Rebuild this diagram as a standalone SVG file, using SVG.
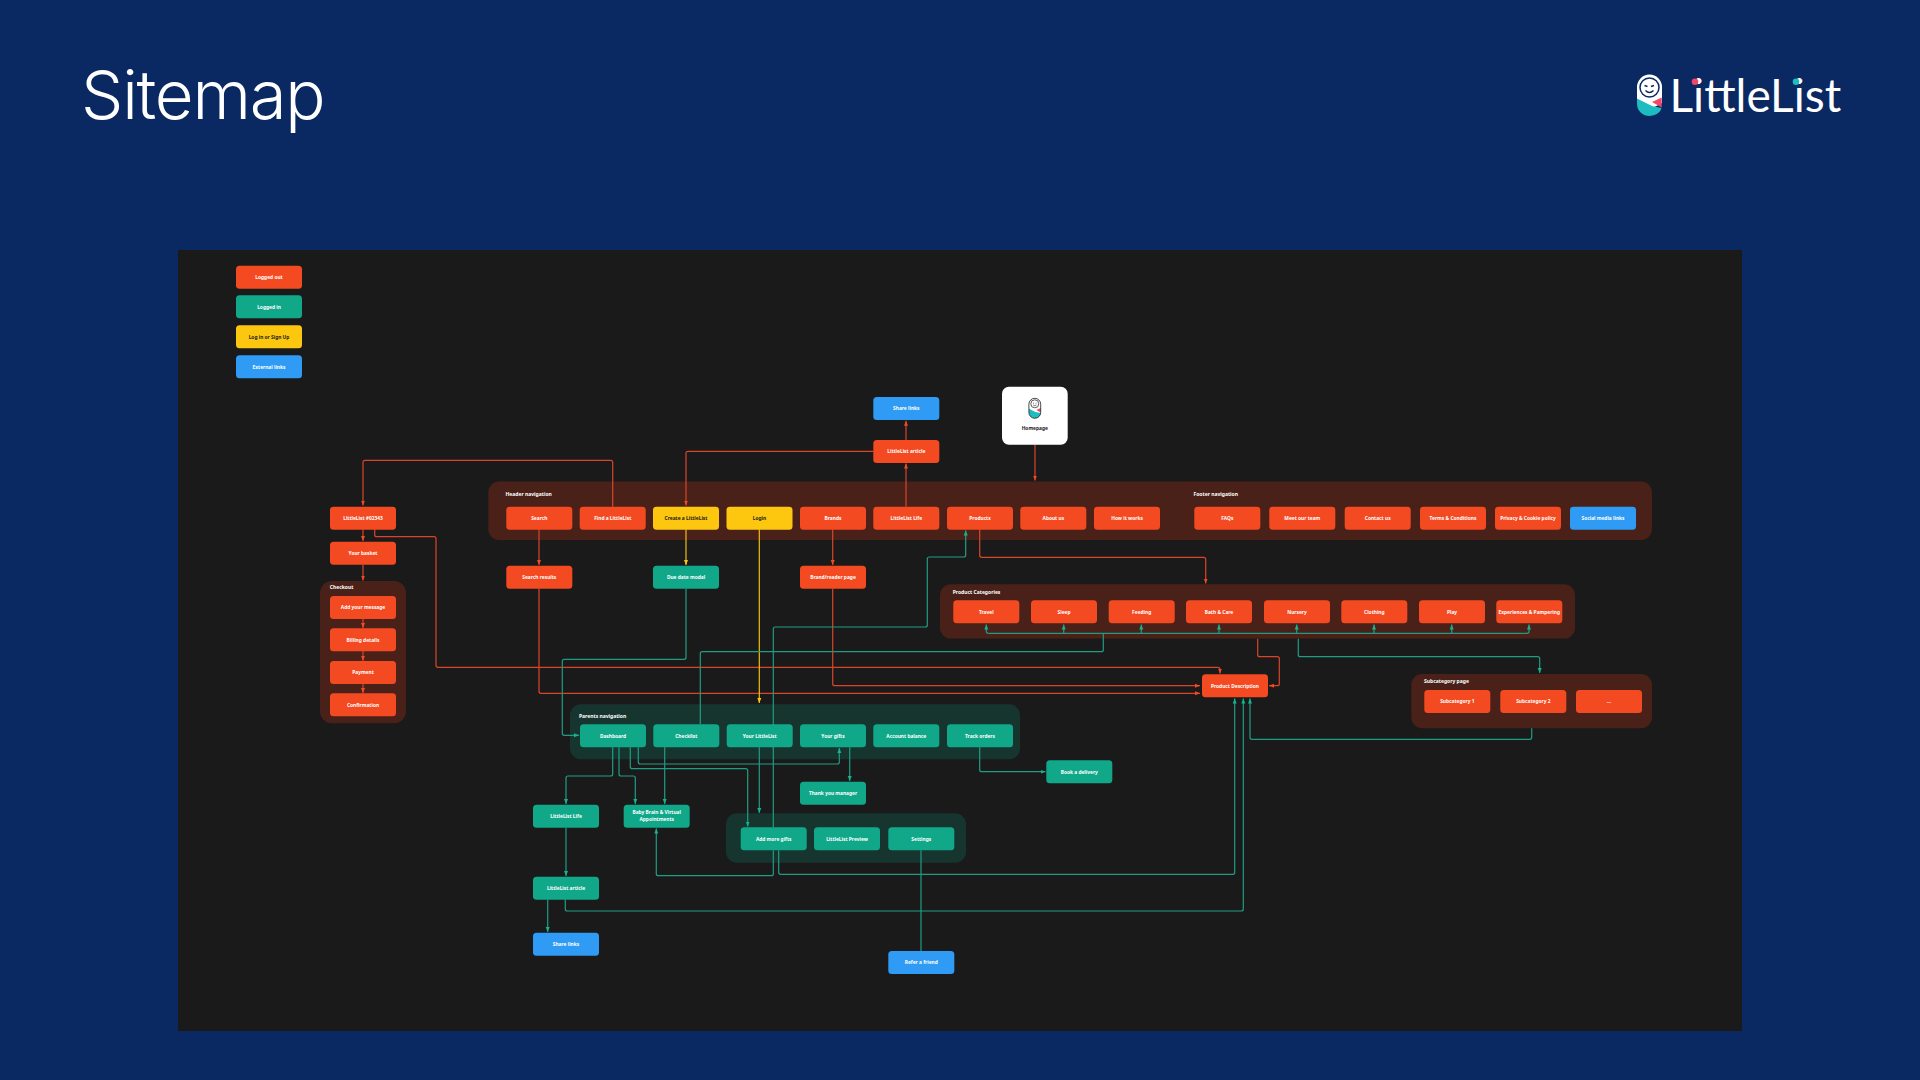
<svg xmlns="http://www.w3.org/2000/svg" width="1920" height="1080" viewBox="0 0 1920 1080">
<defs>
<style>
.r{fill:#f44a22}.t{fill:#11a88a}.y{fill:#fdc70f}.b{fill:#2f9bf4}
.gr{fill:#4a2119}.gt{fill:#17352f}
rect.r,rect.t,rect.y,rect.b{rx:3.5px;ry:3.5px;width:66px;height:23px}
text{font-family:"Noto Sans","Open Sans",sans-serif}
.l{font-size:4.85px;font-weight:700;fill:#fff;text-anchor:middle}
.d{fill:#1a1a1a}
.h{font-size:5px;font-weight:700;fill:#fff}
.cr,.ct,.cy{fill:none;stroke-width:1.2}
.cr{stroke:#d9452a}.ct{stroke:#1f9d84}.cy{stroke:#f2bd12}
.ma{marker-end:url(#ar)}.mt{marker-end:url(#at)}.my{marker-end:url(#ay)}
</style>
<marker id="ar" markerUnits="userSpaceOnUse" markerWidth="6" markerHeight="6" refX="5" refY="3" orient="auto"><path d="M0 1L5 3L0 5z" fill="#f44a22"/></marker>
<marker id="at" markerUnits="userSpaceOnUse" markerWidth="6" markerHeight="6" refX="5" refY="3" orient="auto"><path d="M0 1L5 3L0 5z" fill="#14b392"/></marker>
<marker id="ay" markerUnits="userSpaceOnUse" markerWidth="6" markerHeight="6" refX="5" refY="3" orient="auto"><path d="M0 1L5 3L0 5z" fill="#fdc70f"/></marker>
</defs>
<rect width="1920" height="1080" fill="#0a2862"/>
<text x="81" y="119" font-weight="300" font-size="67" letter-spacing="-1.200" fill="#fff" style="font-family:Inter,sans-serif">Sitemap</text>
<g id="logo">
<path d="M1637 103V87a12.500 12.500 0 0 1 25 0V103L1649 110z" fill="#fff"/>
<circle cx="1649.500" cy="87.500" r="9.500" fill="none" stroke="#0a2862" stroke-width="1.500"/>
<path d="M1644.500 85.500l3 1M1654 85.500l-3 1M1645.500 90.500q4 4 8 0" fill="none" stroke="#0a2862" stroke-width="1.400"/>
<path d="M1637 98.500L1652 106L1661.500 108A12.500 9 0 0 1 1649.500 116A12.500 12 0 0 1 1637 104z" fill="#1cbcc0"/>
<path d="M1661.700 97.500V107.500L1652 102z" fill="#f2476a"/>
<text x="1669.500" y="112" font-size="46" font-weight="400" fill="#fff" style="font-family:Lato,sans-serif">LittleList</text>
<circle cx="1695" cy="81.700" r="3.300" fill="#f2476a"/>
<circle cx="1796" cy="81.700" r="3.300" fill="#1cbcc0"/>
</g>
<rect id="panel" x="178" y="250" width="1564" height="781" fill="#1a1a1a"/>

<g id="groups">
<rect id="group-nav" class="gr" x="488.300" y="481.500" width="1163.700" height="58.500" rx="11"/>
<rect id="group-checkout" class="gr" x="320" y="581" width="86" height="142.300" rx="12"/>
<rect id="group-categories" class="gr" x="940" y="584.300" width="635" height="54.300" rx="11"/>
<rect id="group-subcategory" class="gr" x="1411.300" y="674" width="240.700" height="54.300" rx="11"/>
<rect id="group-parents" class="gt" x="570" y="704.300" width="450" height="55" rx="11"/>
<rect id="group-settings" class="gt" x="726" y="813.300" width="240" height="49.400" rx="11"/>
<text class="h" x="505.500" y="496">Header navigation</text>
<text class="h" x="1193.500" y="496">Footer navigation</text>
<text class="h" x="329.700" y="589">Checkout</text>
<text class="h" x="952.700" y="593.500">Product Categories</text>
<text class="h" x="1424" y="683">Subcategory page</text>
<text class="h" x="579" y="717.700">Parents navigation</text>
</g>

<g id="connectors">
<path class="cr ma" d="M612.700 506.700V462.300Q612.700 460.300 610.700 460.300H365Q363 460.300 363 462.300V505.500"/>
<path class="cr ma" d="M363 529.300V541"/>
<path class="cr ma" d="M374.700 529.300V534.700Q374.700 536.700 376.700 536.700H434Q436 536.700 436 538.700V665.300Q436 667.300 438 667.300H1218Q1220 667.300 1220 669.300V673.500"/>
<path class="cr ma" d="M363 564.700V580.500"/>
<path class="cr ma" d="M363 618.700V628"/>
<path class="cr ma" d="M363 651V660.700"/>
<path class="cr ma" d="M363 683.300V693"/>
<path class="cr ma" d="M539 529.300V565"/>
<path class="cr ma" d="M539 588.700V691.300Q539 693.300 541 693.300H1200"/>
<path class="cr ma" d="M832.700 529.300V565"/>
<path class="cr ma" d="M832.700 588.700V683.700Q832.700 685.700 834.700 685.700H1200"/>
<path class="cr ma" d="M906 506.700V463.500"/>
<path class="cr ma" d="M906 440V420.800"/>
<path class="cr ma" d="M873.300 451.300H688Q686 451.300 686 453.300V505.500"/>
<path class="cr ma" d="M1035 444.700V480.500"/>
<path class="cr ma" d="M979.700 529.300V555.300Q979.700 557.300 981.700 557.300H1203.700Q1205.700 557.300 1205.700 559.300V583.500"/>
<path class="cr ma" d="M1257.700 638.700V654.700Q1257.700 656.700 1259.700 656.700H1277.300Q1279.300 656.700 1279.300 658.700V683.700Q1279.300 685.700 1277.300 685.700H1269"/>
<path class="cy my" d="M686 529.300V565"/>
<path class="cy my" d="M759.300 529.300V703"/>
<path class="ct mt" d="M686 588.700V657.300Q686 659.300 684 659.300H564.300Q562.300 659.300 562.300 661.300V733.300Q562.300 735.300 564.300 735.300H579"/>
<path class="ct" d="M700.300 724.300V653.700Q700.300 651.700 702.300 651.700H1101.300Q1103.300 651.700 1103.300 649.700V633.300"/>
<path class="ct mt" d="M988.300 633.300H1527Q1529 633.300 1529 631.300V624.500"/>
<path class="ct mt" d="M988.300 633.300Q986.300 633.300 986.300 631.300V624.500"/>
<path class="ct mt" d="M1063.700 633.300V624.500"/>
<path class="ct mt" d="M1141.300 633.300V624.500"/>
<path class="ct mt" d="M1219 633.300V624.500"/>
<path class="ct mt" d="M1296.700 633.300V624.500"/>
<path class="ct mt" d="M1374 633.300V624.500"/>
<path class="ct mt" d="M1451.700 633.300V624.500"/>
<path class="ct mt" d="M1298.300 638.700V654.700Q1298.300 656.700 1300.300 656.700H1537.700Q1539.700 656.700 1539.700 658.700V673"/>
<path class="ct mt" d="M1531.700 728.300V737.300Q1531.700 739.300 1529.700 739.300H1252Q1250 739.300 1250 737.300V698.500"/>
<path class="ct mt" d="M778.700 850.300V872.300Q778.700 874.300 780.700 874.300H1232.700Q1234.700 874.300 1234.700 872.300V698.500"/>
<path class="ct mt" d="M565.300 899.300V909Q565.300 911 567.300 911H1241.300Q1243.300 911 1243.300 909V698.500"/>
<path class="ct mt" d="M773.300 827.300V629Q773.300 627 775.300 627H925.300Q927.300 627 927.300 625V559Q927.300 557 929.300 557H963.700Q965.700 557 965.700 555V530.500"/>
<path class="ct mt" d="M612.700 747.300V774Q612.700 776 610.700 776H568Q566 776 566 778V804"/>
<path class="ct mt" d="M619 747.300V774Q619 776 621 776H633.300Q635.300 776 635.300 778V804"/>
<path class="ct mt" d="M630.300 747.300V766.700Q630.300 768.700 632.300 768.700H745.700Q747.700 768.700 747.700 770.700V826.500"/>
<path class="ct mt" d="M638.300 747.300V762Q638.300 764 640.300 764H837.300Q839.300 764 839.300 762V748"/>
<path class="ct mt" d="M664.700 747.300V804"/>
<path class="ct mt" d="M759.300 747.300V813"/>
<path class="ct mt" d="M849.700 747.300V781"/>
<path class="ct mt" d="M979.700 747.300V769.700Q979.700 771.700 981.700 771.700H1045.500"/>
<path class="ct mt" d="M773.300 850.300V873.700Q773.300 875.700 771.300 875.700H658.300Q656.300 875.700 656.300 873.700V828.500"/>
<path class="ct mt" d="M566 827.700V876"/>
<path class="ct mt" d="M547.700 899.300V932"/>
<path class="ct" d="M921 850.300V951"/>
</g>

<g id="legend-out"><rect class="r" x="236" y="265.700"/><text class="l" x="269" y="278.900">Logged out</text></g>
<g id="legend-in"><rect class="t" x="236" y="295.300"/><text class="l" x="269" y="308.500">Logged in</text></g>
<g id="legend-sign"><rect class="y" x="236" y="325.300"/><text class="l d" x="269" y="338.500">Log in or Sign Up</text></g>
<g id="legend-ext"><rect class="b" x="236" y="355.300"/><text class="l" x="269" y="368.500">External links</text></g>

<g id="homepage"><rect x="1002" y="386.700" width="65.700" height="58" rx="7" fill="#fff"/>
<path d="M1029 408.800L1035.500 412L1040.600 413A6 5 0 0 1 1034.800 418.200A6 6 0 0 1 1029 412.500z" fill="#1cbcc0"/>
<path d="M1040.600 408V412.500L1036.300 410z" fill="#f2476a"/>
<rect x="1028.900" y="398.300" width="11.800" height="20" rx="5.900" fill="none" stroke="#1a1a1a" stroke-width=".8"/>
<circle cx="1034.800" cy="403.800" r="4" fill="none" stroke="#1a1a1a" stroke-width=".7"/>
<path d="M1033 403l1 .4M1036.600 403l-1 .4M1033.200 405q1.600 1.500 3.200 0" fill="none" stroke="#1a1a1a" stroke-width=".6"/>
<text class="l d" x="1034.800" y="430">Homepage</text></g>

<g id="n-littlelist-id"><rect class="r" x="330" y="506.700"/><text class="l" x="363" y="519.900">LittleList #02343</text></g>
<g id="n-basket"><rect class="r" x="330" y="541.700"/><text class="l" x="363" y="554.900">Your basket</text></g>
<g id="n-message"><rect class="r" x="330" y="596"/><text class="l" x="363" y="609.200">Add your message</text></g>
<g id="n-billing"><rect class="r" x="330" y="628.300"/><text class="l" x="363" y="641.500">Billing details</text></g>
<g id="n-payment"><rect class="r" x="330" y="661"/><text class="l" x="363" y="674.200">Payment</text></g>
<g id="n-confirmation"><rect class="r" x="330" y="693.300"/><text class="l" x="363" y="706.500">Confirmation</text></g>

<g id="n-search"><rect class="r" x="506.300" y="506.700"/><text class="l" x="539.300" y="519.900">Search</text></g>
<g id="n-find"><rect class="r" x="579.700" y="506.700"/><text class="l" x="612.700" y="519.900">Find a LittleList</text></g>
<g id="n-create"><rect class="y" x="653" y="506.700"/><text class="l d" x="686" y="519.900">Create a LittleList</text></g>
<g id="n-login"><rect class="y" x="726.500" y="506.700"/><text class="l d" x="759.500" y="519.900">Login</text></g>
<g id="n-brands"><rect class="r" x="800" y="506.700"/><text class="l" x="833" y="519.900">Brands</text></g>
<g id="n-life"><rect class="r" x="873.300" y="506.700"/><text class="l" x="906.300" y="519.900">LittleList Life</text></g>
<g id="n-products"><rect class="r" x="947" y="506.700"/><text class="l" x="980" y="519.900">Products</text></g>
<g id="n-about"><rect class="r" x="1020.300" y="506.700"/><text class="l" x="1053.300" y="519.900">About us</text></g>
<g id="n-how"><rect class="r" x="1094" y="506.700"/><text class="l" x="1127" y="519.900">How it works</text></g>
<g id="n-faqs"><rect class="r" x="1194.300" y="506.700"/><text class="l" x="1227.300" y="519.900">FAQs</text></g>
<g id="n-team"><rect class="r" x="1269.300" y="506.700"/><text class="l" x="1302.300" y="519.900">Meet our team</text></g>
<g id="n-contact"><rect class="r" x="1344.700" y="506.700"/><text class="l" x="1377.700" y="519.900">Contact us</text></g>
<g id="n-terms"><rect class="r" x="1420" y="506.700"/><text class="l" x="1453" y="519.900">Terms &amp; Conditions</text></g>
<g id="n-privacy"><rect class="r" x="1495" y="506.700"/><text class="l" x="1528" y="519.900">Privacy &amp; Cookie policy</text></g>
<g id="n-social"><rect class="b" x="1570" y="506.700"/><text class="l" x="1603" y="519.900">Social media links</text></g>

<g id="n-share-top"><rect class="b" x="873.300" y="397"/><text class="l" x="906.300" y="410.200">Share links</text></g>
<g id="n-article-top"><rect class="r" x="873.300" y="440"/><text class="l" x="906.300" y="453.200">LittleList article</text></g>
<g id="n-search-results"><rect class="r" x="506.300" y="565.700"/><text class="l" x="539.300" y="578.900">Search results</text></g>
<g id="n-due"><rect class="t" x="653" y="565.700"/><text class="l" x="686" y="578.900">Due date modal</text></g>
<g id="n-brand-page"><rect class="r" x="800" y="565.700"/><text class="l" x="833" y="578.900">Brand/reader page</text></g>

<g id="n-travel"><rect class="r" x="953.300" y="600.300"/><text class="l" x="986.300" y="613.500">Travel</text></g>
<g id="n-sleep"><rect class="r" x="1031" y="600.300"/><text class="l" x="1064" y="613.500">Sleep</text></g>
<g id="n-feeding"><rect class="r" x="1108.700" y="600.300"/><text class="l" x="1141.700" y="613.500">Feeding</text></g>
<g id="n-bath"><rect class="r" x="1186" y="600.300"/><text class="l" x="1219" y="613.500">Bath &amp; Care</text></g>
<g id="n-nursery"><rect class="r" x="1264" y="600.300"/><text class="l" x="1297" y="613.500">Nursery</text></g>
<g id="n-clothing"><rect class="r" x="1341.300" y="600.300"/><text class="l" x="1374.300" y="613.500">Clothing</text></g>
<g id="n-play"><rect class="r" x="1419" y="600.300"/><text class="l" x="1452" y="613.500">Play</text></g>
<g id="n-experiences"><rect class="r" x="1496.300" y="600.300"/><text class="l" x="1529.300" y="613.500">Experiences &amp; Pampering</text></g>

<g id="n-product-desc"><rect class="r" x="1202" y="674.300"/><text class="l" x="1235" y="687.500">Product Description</text></g>
<g id="n-sub1"><rect class="r" x="1424.300" y="690"/><text class="l" x="1457.300" y="703.200">Subcategory 1</text></g>
<g id="n-sub2"><rect class="r" x="1500.300" y="690"/><text class="l" x="1533.300" y="703.200">Subcategory 2</text></g>
<g id="n-sub3"><rect class="r" x="1576" y="690"/><text class="l" x="1609" y="703.200">...</text></g>

<g id="n-dashboard"><rect class="t" x="580" y="724.300"/><text class="l" x="613" y="737.500">Dashboard</text></g>
<g id="n-checklist"><rect class="t" x="653.300" y="724.300"/><text class="l" x="686.300" y="737.500">Checklist</text></g>
<g id="n-your-list"><rect class="t" x="726.700" y="724.300"/><text class="l" x="759.700" y="737.500">Your LittleList</text></g>
<g id="n-gifts"><rect class="t" x="800" y="724.300"/><text class="l" x="833" y="737.500">Your gifts</text></g>
<g id="n-balance"><rect class="t" x="873.300" y="724.300"/><text class="l" x="906.300" y="737.500">Account balance</text></g>
<g id="n-track"><rect class="t" x="947" y="724.300"/><text class="l" x="980" y="737.500">Track orders</text></g>
<g id="n-thank"><rect class="t" x="800" y="781.700"/><text class="l" x="833" y="794.900">Thank you manager</text></g>
<g id="n-book"><rect class="t" x="1046.300" y="760.300"/><text class="l" x="1079.300" y="773.500">Book a delivery</text></g>
<g id="n-life2"><rect class="t" x="533" y="804.700"/><text class="l" x="566" y="817.900">LittleList Life</text></g>
<g id="n-baby"><rect class="t" x="623.700" y="804.700"/><text class="l" x="656.700" y="814.300">Baby Brain &amp; Virtual</text><text class="l" x="656.700" y="821">Appointments</text></g>
<g id="n-add"><rect class="t" x="740.700" y="827.300"/><text class="l" x="773.700" y="840.500">Add more gifts</text></g>
<g id="n-preview"><rect class="t" x="814" y="827.300"/><text class="l" x="847" y="840.500">LittleList Preview</text></g>
<g id="n-settings"><rect class="t" x="888.300" y="827.300"/><text class="l" x="921.300" y="840.500">Settings</text></g>
<g id="n-article2"><rect class="t" x="533" y="876.700"/><text class="l" x="566" y="889.900">LittleList article</text></g>
<g id="n-share2"><rect class="b" x="533" y="932.700"/><text class="l" x="566" y="945.900">Share links</text></g>
<g id="n-refer"><rect class="b" x="888.300" y="951"/><text class="l" x="921.300" y="964.200">Refer a friend</text></g>
</svg>
